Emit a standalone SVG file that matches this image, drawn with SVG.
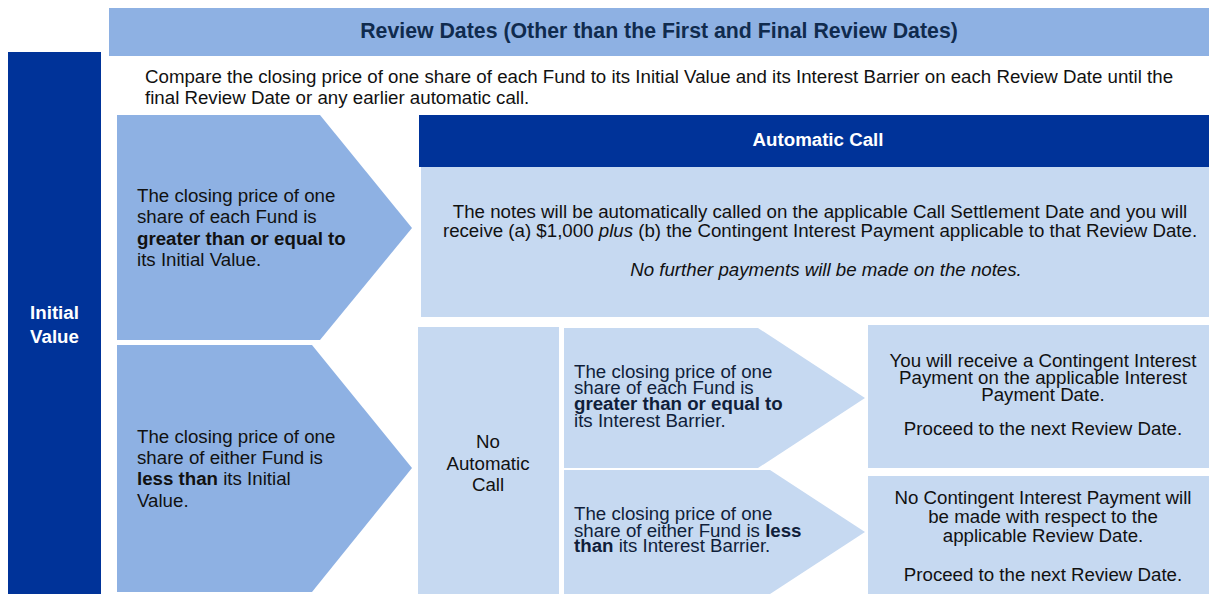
<svg xmlns="http://www.w3.org/2000/svg" width="1209" height="594" viewBox="0 0 1209 594">
<style>
text{font-family:"Liberation Sans",Arial,sans-serif;font-size:18.7px;fill:#111111}
.b{font-weight:bold}
.i{font-style:italic}
.c{text-anchor:middle}
.mid{fill:#101e3a}
.hdr{fill:#102b4e;font-weight:bold;font-size:21.3px}
.w{fill:#ffffff;font-weight:bold}
.dark{fill:#003399}
.med{fill:#8eb1e3}
.lite{fill:#c6d9f1}
</style>
<rect width="1209" height="594" fill="#ffffff"/>
<g id="header">
<rect class="med" x="109" y="8" width="1100" height="48"/>
<text class="hdr c" x="659" y="37.5">Review Dates (Other than the First and Final Review Dates)</text>
</g>
<g id="initial-value">
<rect class="dark" x="8" y="52" width="93" height="542"/>
<text class="w c" x="54.5" y="318.5" font-size="21">Initial</text>
<text class="w c" x="54.5" y="343" font-size="21">Value</text>
</g>
<g id="intro">
<text x="145" y="83">Compare the closing price of one share of each Fund to its Initial Value and its Interest Barrier on each Review Date until the</text>
<text x="145" y="104">final Review Date or any earlier automatic call.</text>
</g>
<g id="cond-above-initial">
<polygon class="med" points="117,115 320,115 412,228 320,340 117,340"/>
<text x="137" y="202">The closing price of one</text>
<text x="137" y="223">share of each Fund is</text>
<text x="137" y="245" class="b">greater than or equal to</text>
<text x="137" y="266">its Initial Value.</text>
</g>
<g id="cond-below-initial">
<polygon class="med" points="117,345 312,345 412,468 312,592 117,592"/>
<text x="137" y="443">The closing price of one</text>
<text x="137" y="464">share of either Fund is</text>
<text x="137" y="485"><tspan class="b">less than</tspan> its Initial</text>
<text x="137" y="507">Value.</text>
</g>
<g id="automatic-call">
<rect class="dark" x="419" y="115" width="790" height="52"/>
<text class="w c" x="818" y="146">Automatic Call</text>
<rect class="lite" x="421" y="167" width="788" height="150"/>
<text class="c" x="820" y="218">The notes will be automatically called on the applicable Call Settlement Date and you will</text>
<text class="c" x="820" y="237">receive (a) $1,000 <tspan class="i">plus</tspan> (b) the Contingent Interest Payment applicable to that Review Date.</text>
<text class="c i" x="826" y="276">No further payments will be made on the notes.</text>
</g>
<g id="no-automatic-call">
<rect class="lite" x="418" y="327" width="141" height="267"/>
<text class="c" x="488" y="448">No</text>
<text class="c" x="488" y="470">Automatic</text>
<text class="c" x="488" y="491">Call</text>
</g>
<g id="cond-above-barrier">
<polygon class="lite" points="564,328 758,328 865,398 758,468 564,468"/>
<text class="mid" x="574" y="378">The closing price of one</text>
<text class="mid" x="574" y="394">share of each Fund is</text>
<text class="mid b" x="574" y="410">greater than or equal to</text>
<text class="mid" x="574" y="427">its Interest Barrier.</text>
</g>
<g id="cond-below-barrier">
<polygon class="lite" points="564,470 770,470 865,532 770,594 564,594"/>
<text class="mid" x="574" y="520">The closing price of one</text>
<text class="mid" x="574" y="537">share of either Fund is <tspan class="b">less</tspan></text>
<text class="mid" x="574" y="552"><tspan class="b">than</tspan> its Interest Barrier.</text>
</g>
<g id="result-interest">
<rect class="lite" x="868" y="325" width="341" height="143"/>
<text class="c" x="1043" y="367">You will receive a Contingent Interest</text>
<text class="c" x="1043" y="384">Payment on the applicable Interest</text>
<text class="c" x="1043" y="401">Payment Date.</text>
<text class="c" x="1043" y="435">Proceed to the next Review Date.</text>
</g>
<g id="result-no-interest">
<rect class="lite" x="868" y="476" width="341" height="118"/>
<text class="c" x="1043" y="504">No Contingent Interest Payment will</text>
<text class="c" x="1043" y="523">be made with respect to the</text>
<text class="c" x="1043" y="542">applicable Review Date.</text>
<text class="c" x="1043" y="581">Proceed to the next Review Date.</text>
</g>
<g id="connectors"></g>
</svg>
